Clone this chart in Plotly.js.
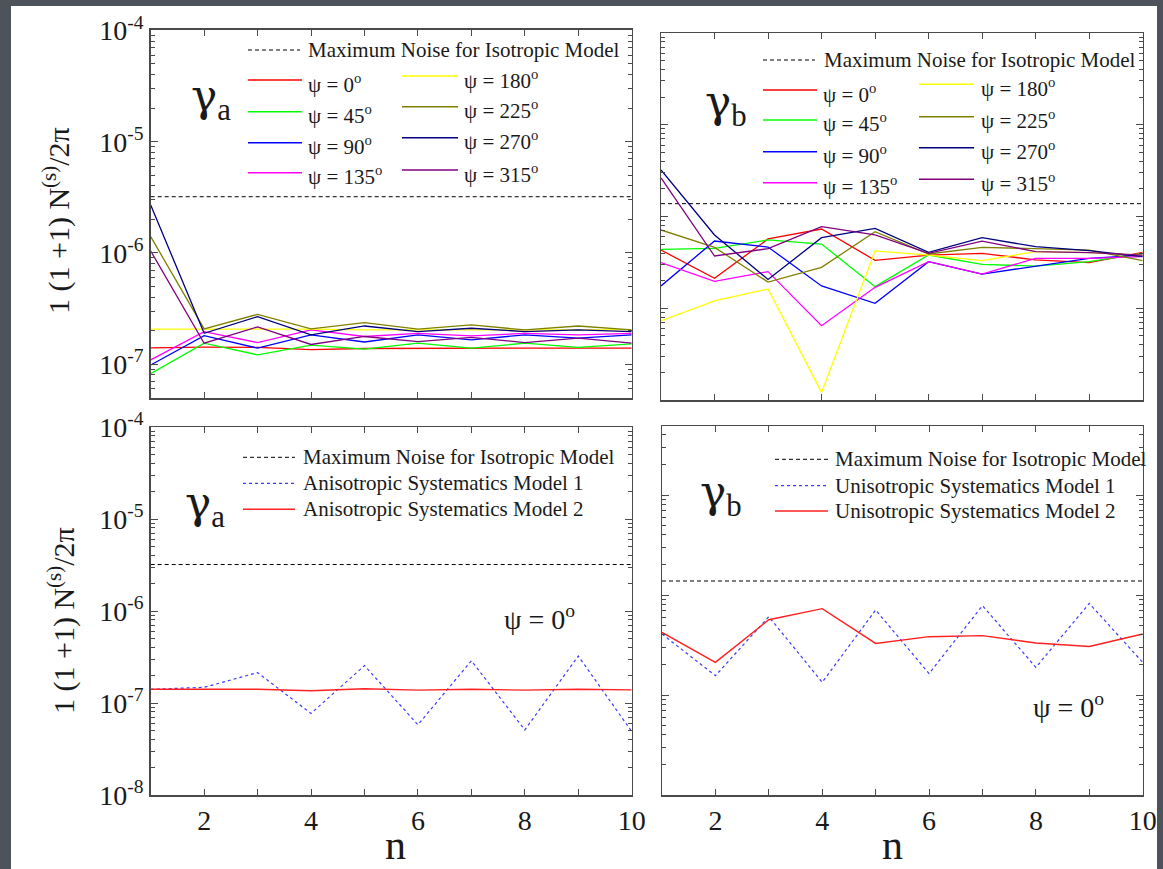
<!DOCTYPE html>
<html>
<head>
<meta charset="utf-8">
<script src="https://cdn.plot.ly/plotly-3.0.1.min.js"></script>
<style>
html, body { margin: 0; padding: 0; background: #4e535b; }
#chart { width: 1163px; height: 869px; }
</style>
</head>
<body>
<div id="chart"></div>
<script>
// multipole index n
const n = [1, 2, 3, 4, 5, 6, 7, 8, 9, 10];

// rotation angles and their colours
const psiLabels = ['0', '45', '90', '135', '180', '225', '270', '315'];
const psiColors = ['#ff0000', '#00ff00', '#0000ff', '#ff00ff', '#ffff00', '#808000', '#000080', '#800080'];

// gamma_a noise spectrum for each rotation angle
const gaPsi0   = [1.40e-7, 1.42e-7, 1.41e-7, 1.35e-7, 1.38e-7, 1.39e-7, 1.39e-7, 1.39e-7, 1.39e-7, 1.39e-7];
const gaPsi45  = [8.2e-8, 1.54e-7, 1.21e-7, 1.48e-7, 1.36e-7, 1.54e-7, 1.39e-7, 1.54e-7, 1.41e-7, 1.52e-7];
const gaPsi90  = [9.8e-8, 1.80e-7, 1.39e-7, 1.83e-7, 1.58e-7, 1.83e-7, 1.65e-7, 1.83e-7, 1.71e-7, 1.83e-7];
const gaPsi135 = [1.09e-7, 1.96e-7, 1.56e-7, 2.03e-7, 1.77e-7, 1.89e-7, 1.79e-7, 1.89e-7, 1.83e-7, 1.89e-7];
const gaPsi180 = [2.06e-7, 2.07e-7, 2.05e-7, 2.06e-7, 2.03e-7, 2.04e-7, 2.03e-7, 2.03e-7, 2.03e-7, 2.04e-7];
const gaPsi225 = [1.40e-6, 2.07e-7, 2.80e-7, 2.07e-7, 2.36e-7, 2.06e-7, 2.25e-7, 2.03e-7, 2.20e-7, 2.03e-7];
const gaPsi270 = [2.70e-6, 1.89e-7, 2.67e-7, 1.83e-7, 2.20e-7, 1.96e-7, 2.10e-7, 1.96e-7, 2.03e-7, 1.96e-7];
const gaPsi315 = [1.04e-6, 1.54e-7, 2.16e-7, 1.50e-7, 1.77e-7, 1.59e-7, 1.74e-7, 1.56e-7, 1.71e-7, 1.54e-7];

// gamma_b noise spectrum for each rotation angle
const gbPsi0   = [4.31e-7, 2.12e-7, 5.69e-7, 7.31e-7, 3.33e-7, 3.80e-7, 3.97e-7, 3.36e-7, 3.14e-7, 4.07e-7];
const gbPsi45  = [4.38e-7, 4.50e-7, 5.55e-7, 5.01e-7, 1.72e-7, 3.80e-7, 3.01e-7, 2.88e-7, 3.22e-7, 3.97e-7];
const gbPsi90  = [1.75e-7, 5.41e-7, 4.65e-7, 1.75e-7, 1.13e-7, 3.22e-7, 2.36e-7, 2.88e-7, 3.50e-7, 3.80e-7];
const gbPsi135 = [3.14e-7, 1.96e-7, 2.51e-7, 6.46e-8, 1.69e-7, 3.22e-7, 2.36e-7, 3.50e-7, 3.50e-7, 3.65e-7];
const gbPsi180 = [7.27e-8, 1.20e-7, 1.62e-7, 1.21e-8, 4.21e-7, 3.80e-7, 3.30e-7, 4.14e-7, 4.04e-7, 3.80e-7];
const gbPsi225 = [7.13e-7, 4.61e-7, 1.93e-7, 2.79e-7, 6.84e-7, 3.90e-7, 4.61e-7, 4.42e-7, 4.31e-7, 3.30e-7];
const gbPsi270 = [3.21e-6, 6.29e-7, 2.06e-7, 5.87e-7, 7.43e-7, 4.07e-7, 5.87e-7, 4.69e-7, 4.24e-7, 3.65e-7];
const gbPsi315 = [2.63e-6, 3.71e-7, 4.46e-7, 7.74e-7, 6.29e-7, 3.97e-7, 5.40e-7, 4.14e-7, 4.04e-7, 3.80e-7];

// systematics models at psi = 0
const gaModel1 = [1.41e-7, 1.48e-7, 2.14e-7, 7.7e-8, 2.55e-7, 5.8e-8, 2.88e-7, 5.1e-8, 3.24e-7, 4.9e-8];
const gaModel2 = [1.41e-7, 1.41e-7, 1.41e-7, 1.36e-7, 1.43e-7, 1.38e-7, 1.41e-7, 1.38e-7, 1.41e-7, 1.39e-7];
const gbModel1 = [4.07e-7, 1.56e-7, 6.07e-7, 1.34e-7, 7.08e-7, 1.64e-7, 7.82e-7, 1.89e-7, 8.24e-7, 2.12e-7];
const gbModel2 = [4.23e-7, 2.12e-7, 5.66e-7, 7.30e-7, 3.28e-7, 3.83e-7, 3.92e-7, 3.31e-7, 3.06e-7, 4.07e-7];

// maximum noise level of the isotropic model
const isoNoiseA = 3.2e-6;
const isoNoiseB = 1.38e-6;

// axis tick labels
const xTickVals = [2, 4, 6, 8, 10];
const xTickText = ['2', '4', '6', '8', '10'];
const yTickValsTop = [1e-7, 1e-6, 1e-5, 1e-4];
const yTickTextTop = ['10<sup>-7</sup>', '10<sup>-6</sup>', '10<sup>-5</sup>', '10<sup>-4</sup>'];
const yTickValsBot = [1e-8, 1e-7, 1e-6, 1e-5, 1e-4];
const yTickTextBot = ['10<sup>-8</sup>', '10<sup>-7</sup>', '10<sup>-6</sup>', '10<sup>-5</sup>', '10<sup>-4</sup>'];

const gaPsi = [gaPsi0, gaPsi45, gaPsi90, gaPsi135, gaPsi180, gaPsi225, gaPsi270, gaPsi315];
const gbPsi = [gbPsi0, gbPsi45, gbPsi90, gbPsi135, gbPsi180, gbPsi225, gbPsi270, gbPsi315];

const W = 1163, H = 869;
const FONT = 'Liberation Serif, Times New Roman, serif';
const GREEK = 'DejaVu Serif, Liberation Serif, serif';
const INK = '#1a1a1a';
const AXIS = '#4a4a4a';
const X = v => v / W;
const Y = v => 1 - v / H;

// 2..9 x 10^k minor ticks on the log axes
const minorLog = [];
for (let k = -9; k <= -3; k++) for (let m = 2; m <= 9; m++) minorLog.push(m * Math.pow(10, k));

const traces = [];
function addLine(xa, ya, yv, color, dash, width) {
  traces.push({
    x: n, y: yv, xaxis: xa, yaxis: ya, type: 'scatter', mode: 'lines',
    line: { color: color, width: width || 1.3, dash: dash || 'solid' },
    hoverinfo: 'skip', showlegend: false
  });
}
function addLevel(xa, ya, level) {
  traces.push({
    x: [n[0], n[n.length - 1]], y: [level, level], xaxis: xa, yaxis: ya,
    type: 'scatter', mode: 'lines', line: { color: '#000', width: 1, dash: '4px,3px' },
    hoverinfo: 'skip', showlegend: false
  });
}

addLevel('x', 'y', isoNoiseA);
gaPsi.forEach((s, i) => addLine('x', 'y', s, psiColors[i]));
addLevel('x2', 'y2', isoNoiseB);
gbPsi.forEach((s, i) => addLine('x2', 'y2', s, psiColors[i]));
addLevel('x3', 'y3', isoNoiseA);
addLine('x3', 'y3', gaModel1, '#3b3bff', 'dot', 1.2);
addLine('x3', 'y3', gaModel2, '#ff2020', 'solid', 1.4);
addLevel('x4', 'y4', isoNoiseB);
addLine('x4', 'y4', gbModel1, '#3b3bff', 'dot', 1.2);
addLine('x4', 'y4', gbModel2, '#ff2020', 'solid', 1.4);

function xAxis(left, right, labels) {
  return {
    domain: [X(left), X(right)], range: [1, 10], type: 'linear',
    showline: true, linecolor: AXIS, linewidth: 1.5, mirror: 'allticks',
    ticks: 'inside', ticklen: 6, tickcolor: AXIS, tickwidth: 1,
    tickmode: 'array', tickvals: xTickVals, ticktext: xTickText,
    showticklabels: labels, tickfont: { family: FONT, size: 28, color: INK },
    minor: { tickmode: 'array', tickvals: [3, 5, 7, 9], ticks: 'inside', ticklen: 6, tickcolor: AXIS, tickwidth: 1, showgrid: false },
    showgrid: false, zeroline: false, automargin: false, fixedrange: true
  };
}
function yAxis(top, bottom, range, tv, tt, labels) {
  return {
    domain: [Y(bottom), Y(top)], range: range, type: 'log',
    showline: true, linecolor: AXIS, linewidth: 1.5, mirror: 'allticks',
    ticks: 'inside', ticklen: 7, tickcolor: AXIS, tickwidth: 1,
    tickmode: 'array', tickvals: tv, ticktext: tt,
    showticklabels: labels, tickfont: { family: FONT, size: 28, color: INK },
    minor: { tickmode: 'array', tickvals: minorLog, ticks: 'inside', ticklen: 4, tickcolor: AXIS, tickwidth: 1, showgrid: false },
    showgrid: false, zeroline: false, automargin: false, fixedrange: true
  };
}

const shapes = [
  { type: 'rect', xref: 'paper', yref: 'paper', x0: X(11), x1: X(1157), y0: Y(872), y1: Y(6), fillcolor: '#ffffff', line: { width: 0 }, layer: 'below' }
];
const annotations = [];

function legendLine(x0, x1, y, color, dash, width) {
  shapes.push({ type: 'line', xref: 'paper', yref: 'paper', x0: X(x0), x1: X(x1), y0: Y(y), y1: Y(y),
    line: { color: color, width: width || 1.4, dash: dash || 'solid' } });
}
function text(x, y, t, size, anchor, family) {
  annotations.push({ xref: 'paper', yref: 'paper', x: X(x), y: Y(y), text: t, showarrow: false,
    xanchor: anchor || 'left', yanchor: 'middle', font: { family: family || FONT, size: size, color: INK } });
}
const psiText = p => 'ψ = ' + p + '<sup>o</sup>';
const gammaText = s => 'γ<sub><span style="font-family:Liberation Serif">' + s + '</span></sub>';

// top-left panel legend
legendLine(248, 300, 50, '#000', '4px,3px', 1);
text(306, 50, 'Maximum Noise for Isotropic Model', 21);
[80, 111.7, 142.7, 172.7].forEach((y, i) => { legendLine(248, 302, y, psiColors[i]); text(306, y + 3, psiText(psiLabels[i]), 21); });
[76, 106.7, 137.7, 170].forEach((y, i) => { legendLine(402, 458, y, psiColors[i + 4]); text(462, y + 3, psiText(psiLabels[i + 4]), 21); });
text(189, 98, gammaText('a'), 44, 'left', GREEK);

// top-right panel legend
legendLine(763, 815, 60, '#000', '4px,3px', 1);
text(822, 60, 'Maximum Noise for Isotropic Model', 21);
[90, 120, 151.7, 182.7].forEach((y, i) => { legendLine(763, 817, y, psiColors[i]); text(821, y + 3, psiText(psiLabels[i]), 21); });
[84.3, 116.7, 147.7, 179.3].forEach((y, i) => { legendLine(919, 974, y, psiColors[i + 4]); text(979, y + 3, psiText(psiLabels[i + 4]), 21); });
text(703, 104, gammaText('b'), 44, 'left', GREEK);

// bottom-left panel legend
legendLine(243, 295, 457.3, '#000', '4px,3px', 1);
text(301, 457.3, 'Maximum Noise for Isotropic Model', 21);
legendLine(243, 295, 483.3, '#3b3bff', 'dot', 1.2);
text(301, 483.3, 'Anisotropic Systematics Model 1', 21);
legendLine(243, 295, 509.3, '#ff2020', 'solid', 1.4);
text(301, 509.3, 'Anisotropic Systematics Model 2', 21);
text(183, 505, gammaText('a'), 44, 'left', GREEK);
text(502, 617, psiText('0'), 28);

// bottom-right panel legend
legendLine(775, 828, 459.3, '#000', '4px,3px', 1);
text(833, 459.3, 'Maximum Noise for Isotropic Model', 21);
legendLine(775, 828, 485.7, '#3b3bff', 'dot', 1.2);
text(833, 485.7, 'Unisotropic Systematics Model 1', 21);
legendLine(775, 828, 511, '#ff2020', 'solid', 1.4);
text(833, 511, 'Unisotropic Systematics Model 2', 21);
text(698, 494, gammaText('b'), 44, 'left', GREEK);
text(1031, 705, psiText('0'), 28);

// axis titles
const yTitle = '1 (1 +1) N<sup>(s)</sup>/2π';
annotations.push({ xref: 'paper', yref: 'paper', x: X(57), y: Y(221), text: yTitle, textangle: -90, showarrow: false,
  xanchor: 'center', yanchor: 'middle', font: { family: FONT, size: 30, color: INK } });
annotations.push({ xref: 'paper', yref: 'paper', x: X(61), y: Y(621), text: yTitle, textangle: -90, showarrow: false,
  xanchor: 'center', yanchor: 'middle', font: { family: FONT, size: 30, color: INK } });
[395, 892].forEach(cx => annotations.push({ xref: 'paper', yref: 'paper', x: X(cx), y: 0, text: 'n', showarrow: false,
  xanchor: 'center', yanchor: 'bottom', borderpad: 0, font: { family: FONT, size: 42, color: INK } }));

const layout = {
  width: W, height: H,
  margin: { l: 0, r: 0, t: 0, b: 0, pad: 0 },
  paper_bgcolor: '#4e535b', plot_bgcolor: '#ffffff',
  showlegend: false,
  xaxis:  xAxis(150.7, 631.7, false),
  xaxis2: xAxis(661, 1142.7, false),
  xaxis3: xAxis(150.7, 631.7, true),
  xaxis4: xAxis(662, 1142.7, true),
  yaxis:  yAxis(29.5, 398.3, [-7.308, -3.991], yTickValsTop, yTickTextTop, true),
  yaxis2: yAxis(33, 400, [-8, -4], yTickValsBot, yTickTextBot, false),
  yaxis3: yAxis(427, 795, [-8, -4], yTickValsBot, yTickTextBot, true),
  yaxis4: yAxis(426, 795, [-8, -4.31], yTickValsBot, yTickTextBot, false),
  shapes: shapes,
  annotations: annotations
};
layout.xaxis.anchor = 'y';  layout.yaxis.anchor = 'x';
layout.xaxis2.anchor = 'y2'; layout.yaxis2.anchor = 'x2';
layout.xaxis3.anchor = 'y3'; layout.yaxis3.anchor = 'x3';
layout.xaxis4.anchor = 'y4'; layout.yaxis4.anchor = 'x4';

Plotly.newPlot('chart', traces, layout, { staticPlot: true, displayModeBar: false });
</script>
</body>
</html>
